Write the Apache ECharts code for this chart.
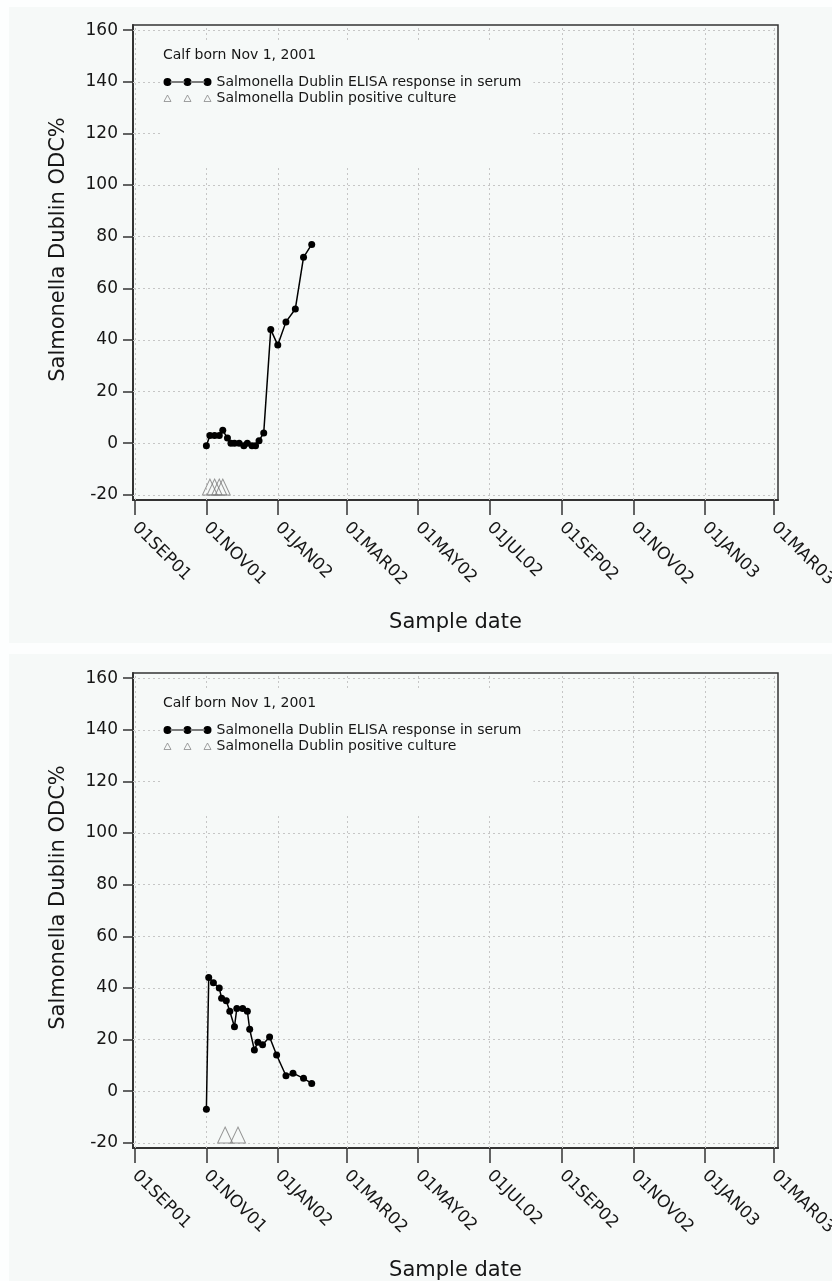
<!DOCTYPE html>
<html>
<head>
<meta charset="utf-8">
<script src="https://cdn.jsdelivr.net/npm/echarts@6/dist/echarts.min.js"></script>
<style>
  html, body { margin: 0; padding: 0; background: #fdfefe; }
  #wrap { position: relative; width: 832px; height: 1281px; overflow: hidden; }
  .panel { position: absolute; background: #f6f9f8; }
  #chart { position: absolute; left: 0; top: 0; width: 832px; height: 1281px; }
</style>
</head>
<body>
<div id="wrap">
  <div class="panel" style="left:9px;top:7px;width:823px;height:636px;"></div>
  <div class="panel" style="left:9px;top:654px;width:823px;height:627px;"></div>
  <div id="chart"></div>
</div>
<script>
// ---------- data ----------
const annotationText = 'Calf born Nov 1, 2001';
const elisaName = 'Salmonella Dublin ELISA response in serum';
const cultureName = 'Salmonella Dublin positive culture';
const yAxisTitle = 'Salmonella Dublin ODC%';
const xAxisTitle = 'Sample date';

const xTickDates = ['2001-09-01','2001-11-01','2002-01-01','2002-03-01','2002-05-01',
                    '2002-07-01','2002-09-01','2002-11-01','2003-01-01','2003-03-01'];
const yTicks = [-20, 0, 20, 40, 60, 80, 100, 120, 140, 160];

// top panel
const topDates = ['2001-11-01','2001-11-04','2001-11-08','2001-11-12','2001-11-15','2001-11-19',
                  '2001-11-22','2001-11-25','2001-11-29','2001-12-03','2001-12-06','2001-12-10',
                  '2001-12-13','2001-12-16','2001-12-20','2001-12-26','2002-01-01','2002-01-08',
                  '2002-01-16','2002-01-23','2002-01-30'];
const topValues = [-1, 3, 3, 3, 5, 2, 0, 0, 0, -1, 0, -1, -1, 1, 4, 44, 38, 47, 52, 72, 77];
const topCultureDates = ['2001-11-04','2001-11-08','2001-11-12','2001-11-15'];
const topCultureValues = [-17, -17, -17, -17];

// bottom panel
const bottomDates = ['2001-11-01','2001-11-03','2001-11-07','2001-11-12','2001-11-14','2001-11-18',
                     '2001-11-21','2001-11-25','2001-11-27','2001-12-02','2001-12-06','2001-12-08',
                     '2001-12-12','2001-12-15','2001-12-19','2001-12-25','2001-12-31','2002-01-08',
                     '2002-01-14','2002-01-23','2002-01-30'];
const bottomValues = [-7, 44, 42, 40, 36, 35, 31, 25, 32, 32, 31, 24, 16, 19, 18, 21, 14, 6, 7, 5, 3];
const bottomCultureDates = ['2001-11-17','2001-11-28'];
const bottomCultureValues = [-17, -17];

// ---------- helpers ----------
const DAY = 86400000;
function ts(s) { const p = s.split('-').map(Number); return Date.UTC(p[0], p[1] - 1, p[2]); }
const MON = ['JAN','FEB','MAR','APR','MAY','JUN','JUL','AUG','SEP','OCT','NOV','DEC'];
function fmtDate(v) {
  const d = new Date(v);
  const dd = String(d.getUTCDate()).padStart(2, '0');
  return dd + MON[d.getUTCMonth()] + String(d.getUTCFullYear()).slice(2);
}
const pair = (dates, vals) => dates.map((d, i) => [ts(d), vals[i]]);
const xTicks = xTickDates.map(ts);

const FONT = 'DejaVu Sans';
const TXT = '#161616';
const FRAME = '#333333';
const PLOTBG = '#f6f9f8';
const GRIDC = '#c6c6c6';

const xMin = ts('2001-09-01') - 1.7 * DAY;
const xMax = ts('2003-03-01') + 3.4 * DAY;

const gridTops = [25, 673];

const dotsIcon = 'path://M0,4 A4,4 0 1,0 8,4 A4,4 0 1,0 0,4 Z M20,4 A4,4 0 1,0 28,4 A4,4 0 1,0 20,4 Z M40,4 A4,4 0 1,0 48,4 A4,4 0 1,0 40,4 Z M7,3.4 L21,3.4 L21,4.6 L7,4.6 Z M27,3.4 L41,3.4 L41,4.6 L27,4.6 Z';
const triIcon = 'path://M4,1 L7.5,7.5 L0.5,7.5 Z M24,1 L27.5,7.5 L20.5,7.5 Z M44,1 L47.5,7.5 L40.5,7.5 Z M0,0 L0,0 M48,8 L48,8';

function makeX(i) {
  return {
    type: 'value', gridIndex: i, min: xMin, max: xMax,
    name: xAxisTitle, nameLocation: 'middle', nameGap: 112,
    nameTextStyle: { fontFamily: FONT, fontSize: 21, color: TXT },
    axisLine: { show: true, onZero: false, lineStyle: { color: FRAME, width: 2 } },
    axisTick: { show: true, customValues: xTicks, length: 15, lineStyle: { color: FRAME, width: 1.5 } },
    axisLabel: { customValues: xTicks, formatter: fmtDate, rotate: -45, margin: 25,
                 fontFamily: FONT, fontSize: 17, color: TXT, hideOverlap: false },
    splitLine: { show: false }
  };
}
function makeY(i) {
  return {
    type: 'value', gridIndex: i, min: -22, max: 162,
    name: yAxisTitle, nameLocation: 'middle', nameGap: 64,
    nameTextStyle: { fontFamily: FONT, fontSize: 21, color: TXT, padding: [0, 0, 0, 26] },
    axisLine: { show: true, lineStyle: { color: FRAME, width: 2 } },
    axisTick: { show: true, customValues: yTicks, length: 10, lineStyle: { color: FRAME, width: 1.5 } },
    axisLabel: { customValues: yTicks, margin: 15, fontFamily: FONT, fontSize: 17, color: TXT },
    splitLine: { show: false }
  };
}
function gridSeries(i) {
  return {
    type: 'line', name: '_grid' + i, xAxisIndex: i, yAxisIndex: i, data: [],
    silent: true, z: 1,
    markLine: {
      silent: true, symbol: ['none', 'none'], animation: false, z: 1,
      label: { show: false },
      lineStyle: { color: GRIDC, width: 1, type: [2, 3] },
      emphasis: { disabled: true },
      data: yTicks.map(v => ({ yAxis: v })).concat(xTicks.map(v => ({ xAxis: v })))
    }
  };
}
function elisaSeries(i, dates, vals) {
  return {
    type: 'line', name: elisaName, xAxisIndex: i, yAxisIndex: i,
    data: pair(dates, vals), showAllSymbol: true,
    symbol: 'circle', symbolSize: 7,
    itemStyle: { color: '#000' },
    lineStyle: { color: '#000', width: 1.5 },
    emphasis: { disabled: true }, z: 3
  };
}
function cultureSeries(i, dates, vals) {
  return {
    type: 'scatter', name: cultureName, xAxisIndex: i, yAxisIndex: i,
    data: pair(dates, vals),
    symbol: 'triangle', symbolSize: [15, 16],
    itemStyle: { color: 'rgba(0,0,0,0)', borderColor: '#7a7a7a', borderWidth: 1 },
    emphasis: { disabled: true }, z: 3
  };
}
function makeLegend(i) {
  return {
    left: 163, top: gridTops[i] + 15, orient: 'vertical', z: 4,
    padding: [34, 12, 59, 0], itemGap: 0,
    itemWidth: 48, itemHeight: 8,
    backgroundColor: PLOTBG, selectedMode: false,
    textStyle: { fontFamily: FONT, fontSize: 14, color: TXT, lineHeight: 16 },
    data: [
      { name: elisaName, icon: dotsIcon, itemStyle: { color: '#000', borderWidth: 0 } },
      { name: cultureName, icon: triIcon, itemStyle: { color: 'rgba(0,0,0,0)', borderColor: '#8a8a8a', borderWidth: 1 } }
    ]
  };
}
function makeTitle(i) {
  return {
    text: annotationText, left: 163, top: gridTops[i] + 23, padding: 0, z: 6,
    textStyle: { fontFamily: FONT, fontSize: 14, fontWeight: 'normal', color: TXT }
  };
}

const chart = echarts.init(document.getElementById('chart'), null, { renderer: 'canvas' });
chart.setOption({
  animation: false,
  backgroundColor: 'transparent',
  textStyle: { fontFamily: FONT },
  title: [makeTitle(0), makeTitle(1)],
  legend: [makeLegend(0), makeLegend(1)],
  grid: gridTops.map(t => ({
    left: 133, top: t, width: 645, height: 475, show: true,
    outerBoundsMode: 'none', containLabel: false,
    backgroundColor: PLOTBG, borderColor: FRAME, borderWidth: 1.5
  })),
  xAxis: [makeX(0), makeX(1)],
  yAxis: [makeY(0), makeY(1)],
  series: [
    gridSeries(0), gridSeries(1),
    cultureSeries(0, topCultureDates, topCultureValues),
    elisaSeries(0, topDates, topValues),
    cultureSeries(1, bottomCultureDates, bottomCultureValues),
    elisaSeries(1, bottomDates, bottomValues)
  ]
});
</script>
</body>
</html>
